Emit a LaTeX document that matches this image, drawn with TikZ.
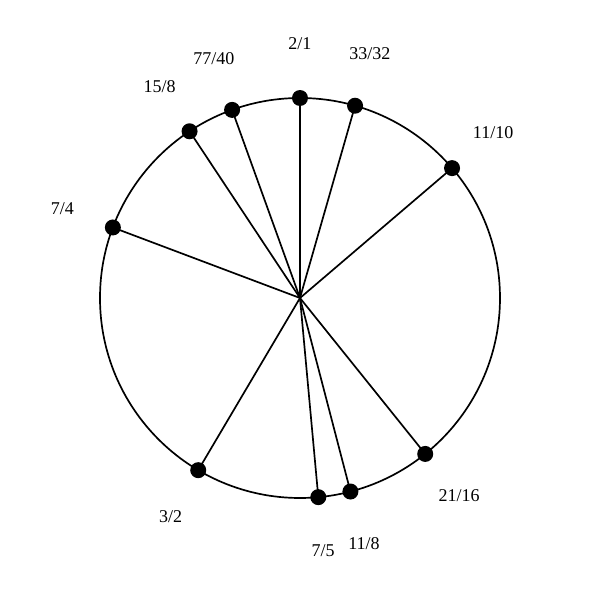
\documentclass[tikz,border=0pt]{standalone}
\usepackage{fontspec}
\setmainfont{Liberation Serif}
\usepackage{tikz}

\begin{document}
\begin{tikzpicture}[line width=1.2pt,
		dot/.style={circle,fill=black,inner sep=0pt,minimum size=0.4cm},
		ratio/.style={font=\fontsize{12.8}{15}\selectfont,inner sep=1pt}
		]
		\useasboundingbox (-7.5,-7.55) rectangle (7.5,7.45);
		\coordinate (c) at (0,0);
		\draw (c) circle (5);
		% points on the circle
		\coordinate (q2) at (90:5);
		\coordinate (q33) at (74.02:5);
		\coordinate (q11a) at (40.50:5);
		\coordinate (q21) at (-51.23:5);
		\coordinate (q11b) at (-75.39:5);
		\coordinate (q7a) at (-84.75:5);
		\coordinate (q3) at (-120.59:5);
		\coordinate (q7b) at (159.35:5);
		\coordinate (q15) at (123.52:5);
		\coordinate (q77) at (109.85:5);
		% spokes
		\draw (c) -- (q2);
		\draw (c) -- (q33);
		\draw (c) -- (q11a);
		\draw (c) -- (q21);
		\draw (c) -- (q11b);
		\draw (c) -- (q7a);
		\draw (c) -- (q3);
		\draw (c) -- (q7b);
		\draw (c) -- (q15);
		\draw (c) -- (q77);
		% dots
		\node[dot] (d2) at (q2) {};
		\node[dot] (d33) at (q33) {};
		\node[dot] (d11a) at (q11a) {};
		\node[dot] (d21) at (q21) {};
		\node[dot] (d11b) at (q11b) {};
		\node[dot] (d7a) at (q7a) {};
		\node[dot] (d3) at (q3) {};
		\node[dot] (d7b) at (q7b) {};
		\node[dot] (d15) at (q15) {};
		\node[dot] (d77) at (q77) {};
		% labels
		\node[ratio] (l2) at (90:6.35) {2/1};
		\node[ratio] (l33) at (74.02:6.35) {33/32};
		\node[ratio] (l11a) at (40.50:6.35) {11/10};
		\node[ratio] (l21) at (-51.23:6.35) {21/16};
		\node[ratio] (l11b) at (-75.39:6.35) {11/8};
		\node[ratio] (l7a) at (-84.75:6.35) {7/5};
		\node[ratio] (l3) at (-120.59:6.35) {3/2};
		\node[ratio] (l7b) at (159.35:6.35) {7/4};
		\node[ratio] (l15) at (123.52:6.35) {15/8};
		\node[ratio] (l77) at (109.85:6.35) {77/40};
\end{tikzpicture}
\end{document}
